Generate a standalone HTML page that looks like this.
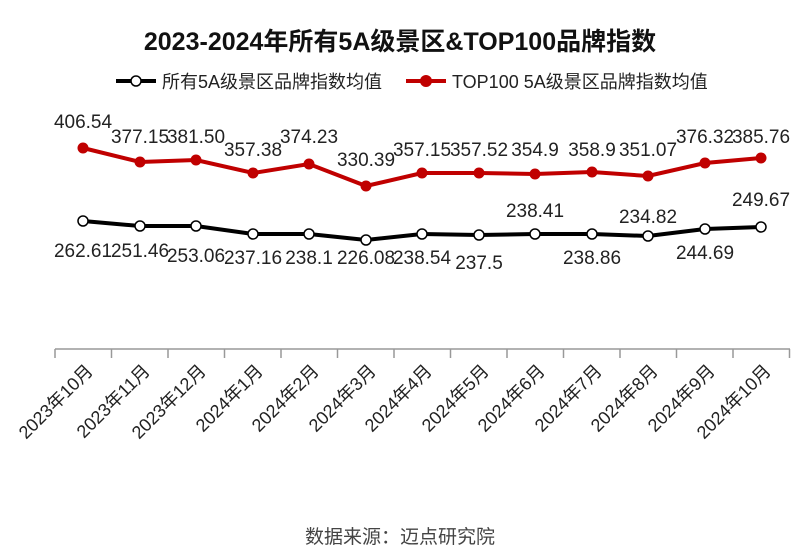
<!DOCTYPE html>
<html><head><meta charset="utf-8"><style>
body{margin:0;background:#fff;}
svg{display:block;font-family:"Liberation Sans","Noto Sans CJK SC",sans-serif;}
</style></head><body>
<svg width="800" height="554" viewBox="0 0 800 554">
<text x="400" y="50" text-anchor="middle" font-size="25" font-weight="bold" fill="#111">2023-2024年所有5A级景区&amp;TOP100品牌指数</text>
<line x1="116" y1="81" x2="156" y2="81" stroke="#000" stroke-width="4"/>
<circle cx="136" cy="81" r="5" fill="#fff" stroke="#000" stroke-width="1.5"/>
<text x="162" y="88" font-size="18" fill="#222">所有5A级景区品牌指数均值</text>
<line x1="406" y1="81" x2="446" y2="81" stroke="#c00000" stroke-width="4"/>
<circle cx="426" cy="81" r="6" fill="#c00000"/>
<text x="452" y="88" font-size="18" fill="#222">TOP100 5A级景区品牌指数均值</text>
<line x1="55" y1="349" x2="790" y2="349" stroke="#999" stroke-width="1.5"/>
<g stroke="#999" stroke-width="1.5">
<line x1="55" y1="349" x2="55" y2="358"/><line x1="111.5" y1="349" x2="111.5" y2="358"/><line x1="168" y1="349" x2="168" y2="358"/><line x1="224.5" y1="349" x2="224.5" y2="358"/><line x1="281" y1="349" x2="281" y2="358"/><line x1="337.5" y1="349" x2="337.5" y2="358"/><line x1="394" y1="349" x2="394" y2="358"/><line x1="450.5" y1="349" x2="450.5" y2="358"/><line x1="507" y1="349" x2="507" y2="358"/><line x1="563.5" y1="349" x2="563.5" y2="358"/><line x1="620" y1="349" x2="620" y2="358"/><line x1="676.5" y1="349" x2="676.5" y2="358"/><line x1="733" y1="349" x2="733" y2="358"/><line x1="789.5" y1="349" x2="789.5" y2="358"/>
</g>
<g font-size="18" fill="#222" text-anchor="end">
<text transform="translate(94,372) rotate(-45)">2023年10月</text>
<text transform="translate(151,372) rotate(-45)">2023年11月</text>
<text transform="translate(207,372) rotate(-45)">2023年12月</text>
<text transform="translate(264,372) rotate(-45)">2024年1月</text>
<text transform="translate(320,372) rotate(-45)">2024年2月</text>
<text transform="translate(377,372) rotate(-45)">2024年3月</text>
<text transform="translate(433,372) rotate(-45)">2024年4月</text>
<text transform="translate(490,372) rotate(-45)">2024年5月</text>
<text transform="translate(546,372) rotate(-45)">2024年6月</text>
<text transform="translate(603,372) rotate(-45)">2024年7月</text>
<text transform="translate(659,372) rotate(-45)">2024年8月</text>
<text transform="translate(716,372) rotate(-45)">2024年9月</text>
<text transform="translate(772,372) rotate(-45)">2024年10月</text>
</g>
<polyline fill="none" stroke="#c00000" stroke-width="4" points="83,148 140,162 196,160 253,173 309,164 366,186 422,173 479,173 535,174 592,172 648,176 705,163 761,158"/>
<g fill="#c00000">
<circle cx="83" cy="148" r="5.5"/><circle cx="140" cy="162" r="5.5"/><circle cx="196" cy="160" r="5.5"/><circle cx="253" cy="173" r="5.5"/><circle cx="309" cy="164" r="5.5"/><circle cx="366" cy="186" r="5.5"/><circle cx="422" cy="173" r="5.5"/><circle cx="479" cy="173" r="5.5"/><circle cx="535" cy="174" r="5.5"/><circle cx="592" cy="172" r="5.5"/><circle cx="648" cy="176" r="5.5"/><circle cx="705" cy="163" r="5.5"/><circle cx="761" cy="158" r="5.5"/>
</g>
<polyline fill="none" stroke="#000" stroke-width="4" points="83,221 140,226 196,226 253,234 309,234 366,240 422,234 479,235 535,234 592,234 648,236 705,229 761,227"/>
<g fill="#fff" stroke="#000" stroke-width="1.5">
<circle cx="83" cy="221" r="5"/><circle cx="140" cy="226" r="5"/><circle cx="196" cy="226" r="5"/><circle cx="253" cy="234" r="5"/><circle cx="309" cy="234" r="5"/><circle cx="366" cy="240" r="5"/><circle cx="422" cy="234" r="5"/><circle cx="479" cy="235" r="5"/><circle cx="535" cy="234" r="5"/><circle cx="592" cy="234" r="5"/><circle cx="648" cy="236" r="5"/><circle cx="705" cy="229" r="5"/><circle cx="761" cy="227" r="5"/>
</g>
<g font-size="19" fill="#222" text-anchor="middle">
<text x="83" y="128">406.54</text><text x="140" y="143">377.15</text><text x="196" y="143">381.50</text><text x="253" y="156">357.38</text><text x="309" y="143">374.23</text><text x="366" y="166">330.39</text><text x="422" y="156">357.15</text><text x="479" y="156">357.52</text><text x="535" y="156">354.9</text><text x="592" y="156">358.9</text><text x="648" y="156">351.07</text><text x="705" y="143">376.32</text><text x="761" y="143">385.76</text>
<text x="83" y="257">262.61</text><text x="140" y="257">251.46</text><text x="196" y="262">253.06</text><text x="253" y="264">237.16</text><text x="309" y="264">238.1</text><text x="366" y="264">226.08</text><text x="422" y="264">238.54</text><text x="479" y="269">237.5</text><text x="535" y="217">238.41</text><text x="592" y="264">238.86</text><text x="648" y="223">234.82</text><text x="705" y="259">244.69</text><text x="761" y="206">249.67</text>
</g>
<text x="400" y="543" text-anchor="middle" font-size="19" fill="#444">数据来源：迈点研究院</text>
</svg>
</body></html>
